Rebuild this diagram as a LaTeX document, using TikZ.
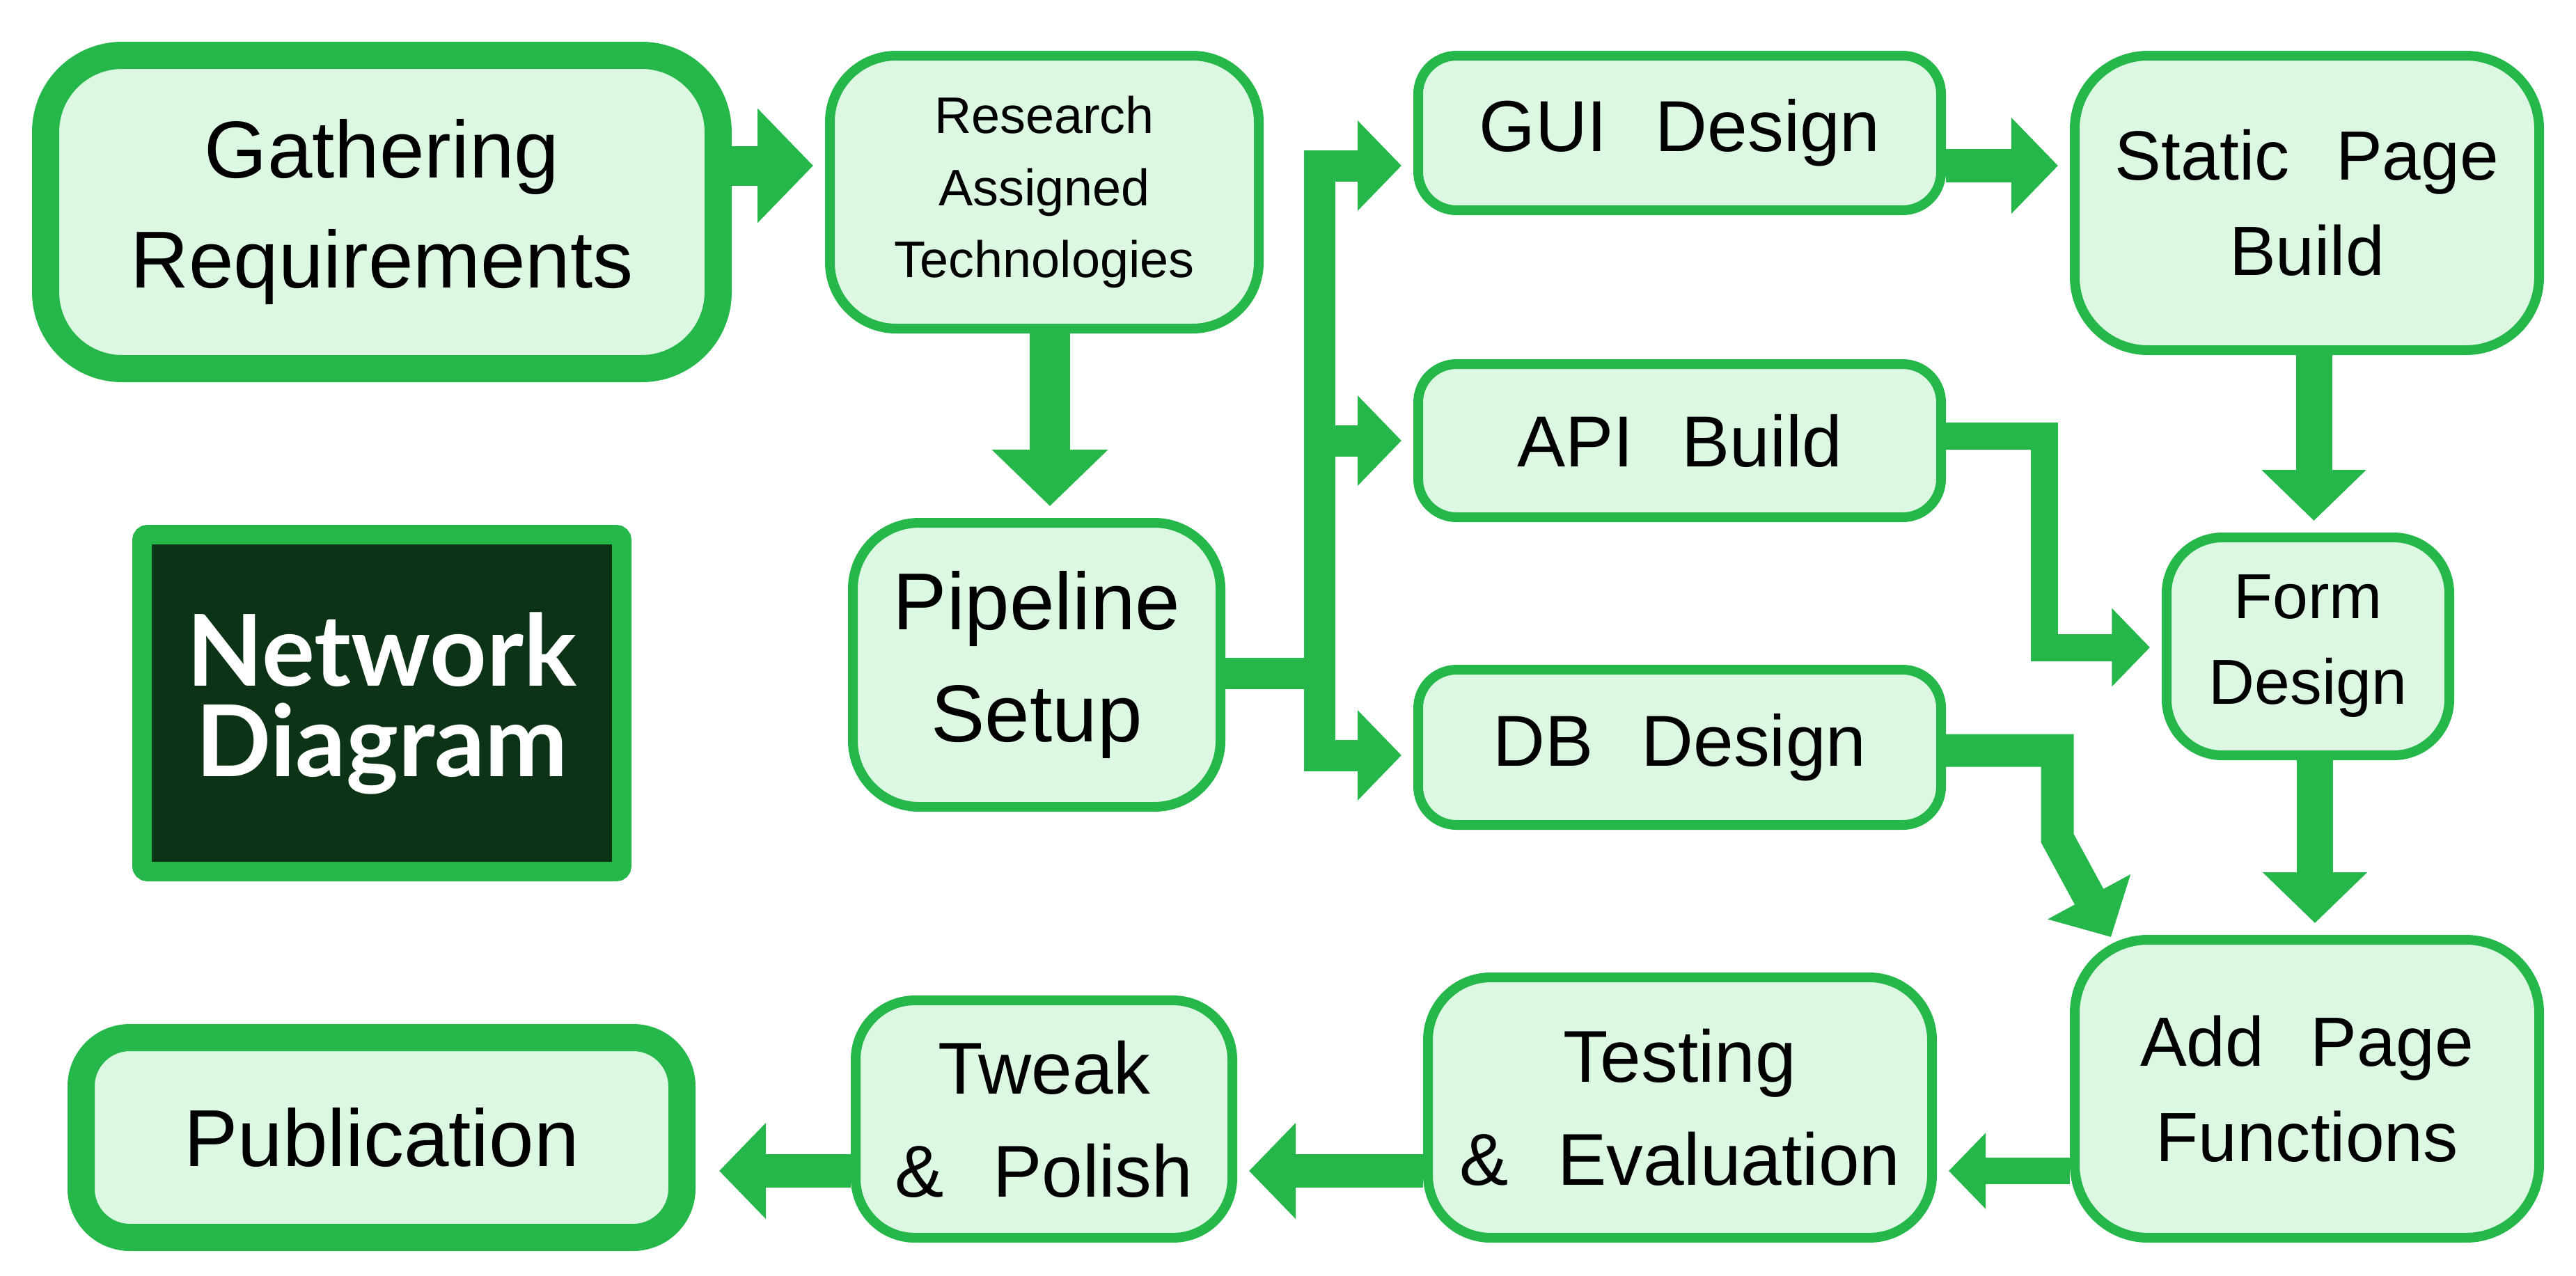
\documentclass[tikz,border=0pt]{standalone}
\usepackage{fontspec}
\setmainfont[WordSpace=2.4]{Liberation Sans}
\newfontfamily\titlefont{Lato}
\usetikzlibrary{arrows.meta, positioning, calc}
\definecolor{flowgreen}{HTML}{26B74A}
\definecolor{stagefill}{HTML}{DCF7E2}
\definecolor{titledark}{HTML}{0C3315}

\begin{document}
\begin{tikzpicture}[
    stage/.style={draw=flowgreen, fill=stagefill, line width=1.4mm, align=center,
      inner sep=0pt, text=black},
    endstage/.style={stage, line width=3.9mm},
    titlebox/.style={draw=flowgreen, fill=titledark, line width=2.8mm, rounded corners=0.8mm,
      align=center, inner sep=0pt, text=white,
      font=\titlefont\bfseries\fontsize{40.5}{37}\selectfont},
    flow/.style={draw=flowgreen, line width=#1, line join=miter, shorten >=1.7mm,
      -{Triangle[length=0pt 1.4, width=0pt 2.8]}}]

    \useasboundingbox (0,0) rectangle (37,-18.32);

    % Left column
    \node[endstage, rounded corners=1.1cm, minimum width=9.66cm, minimum height=4.5cm,
      font=\fontsize{33}{45}\selectfont] (gather) at (5.485,-3.045) {Gathering\\Requirements};
    \node[titlebox, minimum width=6.89cm, minimum height=4.84cm] (title) at (5.485,-10.1) {Network\\Diagram};
    \node[endstage, rounded corners=0.7cm, minimum width=8.63cm, minimum height=2.87cm,
      font=\fontsize{33}{45}\selectfont] (pub) at (5.48,-16.34) {Publication};

    % Second column
    \node[stage, rounded corners=0.95cm, minimum width=6.16cm, minimum height=3.92cm,
      font=\fontsize{21}{29.5}\selectfont] (research) at (15,-2.76) {Research\\Assigned\\Technologies};
    \node[stage, rounded corners=0.95cm, minimum width=5.28cm, minimum height=4.08cm,
      font=\fontsize{33}{46}\selectfont] (pipeline) at (14.89,-9.55) {Pipeline\\Setup};
    \node[stage, rounded corners=0.85cm, minimum width=5.41cm, minimum height=3.41cm,
      font=\fontsize{30}{42}\selectfont] (tweak) at (14.995,-16.075) {Tweak\\\& Polish};

    % Third column
    \node[stage, rounded corners=0.55cm, minimum width=7.51cm, minimum height=2.22cm,
      font=\fontsize{29.5}{40}\selectfont] (gui) at (24.125,-1.91) {GUI Design};
    \node[stage, rounded corners=0.55cm, minimum width=7.51cm, minimum height=2.2cm,
      font=\fontsize{29.5}{40}\selectfont] (api) at (24.125,-6.33) {API Build};
    \node[stage, rounded corners=0.55cm, minimum width=7.51cm, minimum height=2.23cm,
      font=\fontsize{29.5}{40}\selectfont] (db) at (24.125,-10.735) {DB Design};
    \node[stage, rounded corners=0.9cm, minimum width=7.24cm, minimum height=3.74cm,
      font=\fontsize{30}{42}\selectfont] (testing) at (24.13,-15.91) {Testing\\\& Evaluation};

    % Right column
    \node[stage, rounded corners=1.05cm, minimum width=6.67cm, minimum height=4.23cm,
      font=\fontsize{28.5}{39}\selectfont] (static) at (33.135,-2.915) {Static Page\\Build};
    \node[stage, rounded corners=0.8cm, minimum width=4.06cm, minimum height=3.13cm,
      font=\fontsize{26}{35}\selectfont] (form) at (33.15,-9.285) {Form\\Design};
    \node[stage, rounded corners=1.05cm, minimum width=6.67cm, minimum height=4.28cm,
      font=\fontsize{28.5}{39}\selectfont] (addpage) at (33.135,-15.64) {Add Page\\Functions};

    % Arrow rows and bends
    \coordinate (toprow) at (0,-2.38);
    \coordinate (lowrow) at (0,-16.82);
    \coordinate (fork) at (18.95,-9.67);
    \coordinate (apibend) at (29.36,-9.3);
    \coordinate (dbbend) at (29.55,-10.78);
    \coordinate (dbdrop) at (29.55,-12.04);
    \coordinate (dbtip) at (30.32,-13.46);

    % Connectors
    \draw[flow=5.7mm] (gather.east |- toprow) -- (research.west |- toprow);
    \draw[flow=5.8mm] ([xshift=0.8mm]research.south) -- ([xshift=0.8mm]research.south |- pipeline.north);
    \draw[flow=4.5mm] (pipeline.east |- fork) -- (fork) |- (gui.west |- toprow);
    \draw[flow=4.5mm] (pipeline.east |- fork) -- (fork) |- (api.west);
    \draw[flow=4.5mm] (pipeline.east |- fork) -- (fork) |- ([yshift=-1.15mm]db.west);
    \draw[flow=4.8mm] (gui.east |- toprow) -- (static.west |- toprow);
    \draw[flow=5.2mm] ([xshift=1mm]static.south) -- ([xshift=1mm]static.south |- form.north);
    \draw[flow=3.9mm] ([yshift=0.7mm]api.east) -| (apibend) -- (apibend -| form.west);
    \draw[flow=4.7mm, shorten >=0pt] (db.east |- dbbend) -- (dbbend) -- (dbdrop) -- (dbtip);
    \draw[flow=5.2mm] ([xshift=1mm]form.south) -- ([xshift=1mm]form.south |- addpage.north);
    \draw[flow=3.8mm] (addpage.west |- lowrow) -- (testing.east |- lowrow);
    \draw[flow=4.8mm] (testing.west |- lowrow) -- (tweak.east |- lowrow);
    \draw[flow=4.8mm, shorten >=3.4mm] (tweak.west |- lowrow) -- (pub.east |- lowrow);
\end{tikzpicture}
\end{document}
